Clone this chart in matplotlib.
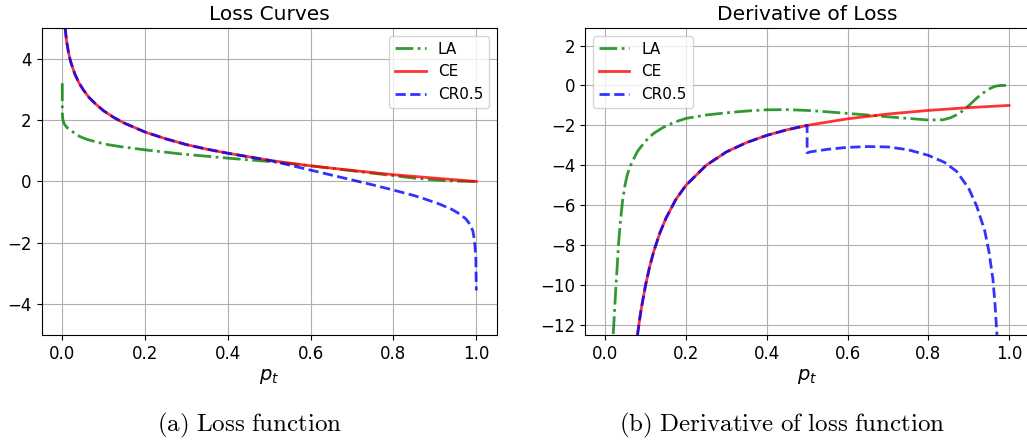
import numpy as np
import matplotlib
matplotlib.use('Agg')
import matplotlib.pyplot as plt

# ---- loss curves ----
ce_p = [0.0068, 0.01, 0.015, 0.02, 0.03, 0.04, 0.05, 0.065, 0.08, 0.1, 0.125, 0.15,
        0.2, 0.25, 0.3, 0.35, 0.4, 0.5, 0.6, 0.7, 0.8, 0.9, 1.0]
ce_loss = [5.0, 4.61, 4.20, 3.91, 3.51, 3.22, 3.0, 2.73, 2.53, 2.30, 2.08, 1.90,
           1.61, 1.39, 1.20, 1.05, 0.92, 0.69, 0.51, 0.36, 0.22, 0.11, 0.0]

cr_p = [0.0068, 0.01, 0.015, 0.02, 0.03, 0.04, 0.05, 0.065, 0.08, 0.1, 0.125, 0.15,
        0.2, 0.25, 0.3, 0.35, 0.4, 0.5, 0.55, 0.6, 0.65, 0.7, 0.75, 0.8, 0.85,
        0.88, 0.91, 0.94, 0.96, 0.975, 0.985, 0.992, 0.996, 0.999, 1.0]
cr_loss = [5.0, 4.61, 4.20, 3.91, 3.51, 3.22, 3.0, 2.73, 2.53, 2.30, 2.08, 1.90,
           1.61, 1.39, 1.20, 1.05, 0.92, 0.69, 0.53, 0.37, 0.21, 0.05, -0.11, -0.28, -0.46,
           -0.59, -0.73, -0.90, -1.06, -1.22, -1.40, -1.62, -1.95, -2.5, -3.55]

la_p = [0.0, 0.0, 0.001, 0.003, 0.007, 0.012, 0.019, 0.03, 0.043, 0.06, 0.084, 0.11,
        0.148, 0.2, 0.285, 0.4, 0.5, 0.6, 0.7, 0.8, 0.85, 0.9, 0.95, 1.0]
la_loss = [3.2, 2.25, 2.05, 1.93, 1.83, 1.75, 1.68, 1.57, 1.46, 1.37, 1.28, 1.20,
           1.12, 1.03, 0.90, 0.76, 0.65, 0.51, 0.35, 0.19, 0.11, 0.05, 0.01, 0.0]

# ---- derivatives ----
dce_p = [0.08, 0.085, 0.09, 0.1, 0.11, 0.12, 0.135, 0.15, 0.175, 0.2, 0.25, 0.3,
         0.35, 0.4, 0.45, 0.5, 0.6, 0.7, 0.8, 0.9, 1.0]
dce = [-12.5, -11.76, -11.11, -10.0, -9.09, -8.33, -7.41, -6.67, -5.71, -5.0, -4.0, -3.33,
       -2.86, -2.5, -2.22, -2.0, -1.67, -1.43, -1.25, -1.11, -1.0]

dcr_p = [0.08, 0.085, 0.09, 0.1, 0.11, 0.12, 0.135, 0.15, 0.175, 0.2, 0.25, 0.3,
         0.35, 0.4, 0.45, 0.5, 0.5, 0.51, 0.55, 0.6, 0.65, 0.7, 0.75, 0.8, 0.84, 0.87,
         0.9, 0.92, 0.94, 0.95, 0.96, 0.965, 0.97]
dcr = [-12.5, -11.76, -11.11, -10.0, -9.09, -8.33, -7.41, -6.67, -5.71, -5.0, -4.0, -3.33,
       -2.86, -2.5, -2.22, -2.0, -3.37, -3.32, -3.2, -3.1, -3.06, -3.08, -3.22, -3.5, -3.85, -4.3,
       -5.15, -6.05, -7.3, -8.3, -9.7, -10.9, -12.5]

dla_p = [0.02, 0.0235, 0.0265, 0.03, 0.033, 0.038, 0.043, 0.049, 0.055, 0.062, 0.068, 0.08,
         0.1, 0.12, 0.142, 0.17, 0.2, 0.25, 0.3, 0.35, 0.4, 0.45, 0.5, 0.55, 0.6, 0.65,
         0.7, 0.75, 0.8, 0.836, 0.855, 0.869, 0.882, 0.894, 0.906, 0.919, 0.932, 0.944,
         0.956, 0.968, 0.98, 1.0]
dla = [-12.45, -11.2, -10.1, -9.0, -7.95, -6.75, -5.78, -5.0, -4.45, -4.05, -3.78, -3.3,
       -2.78, -2.4, -2.12, -1.85, -1.65, -1.48, -1.37, -1.28, -1.22, -1.21, -1.25, -1.32, -1.4, -1.48,
       -1.57, -1.65, -1.73, -1.72, -1.62, -1.48, -1.32, -1.12, -0.9, -0.65, -0.44, -0.25,
       -0.12, -0.03, 0.0, 0.0]

labels = ['LA', 'CE', 'CR0.5']
colors = ['g', 'r', 'b']
styles = ['-.', '-', '--']

fig = plt.figure(figsize=(10.27, 4.42), dpi=100)
ax1 = fig.add_axes([0.0405, 0.2421, 0.4434, 0.6946])
ax2 = fig.add_axes([0.5696, 0.2421, 0.4326, 0.6946])

curves1 = [(la_p, la_loss), (ce_p, ce_loss), (cr_p, cr_loss)]
curves2 = [(dla_p, dla), (dce_p, dce), (dcr_p, dcr)]

for ax, curves in [(ax1, curves1), (ax2, curves2)]:
    for (x, y), lab, c, ls in zip(curves, labels, colors, styles):
        ax.plot(x, y, ls, color=c, alpha=0.8, lw=2, label=lab)
    ax.grid(True)
    ax.set_xlim(-0.05, 1.05)
    ax.set_xticks(np.arange(0, 1.01, 0.2))
    ax.tick_params(labelsize=12)
    ax.set_xlabel('$p_t$', fontsize=14, labelpad=3)

ax1.set_ylim(-5, 5)
ax1.set_yticks([-4, -2, 0, 2, 4])
ax1.set_title('Loss Curves', fontsize=14.5)
ax1.legend(loc='upper right', fontsize=11)

ax2.set_ylim(-12.5, 2.88)
ax2.set_yticks(np.arange(-12, 3, 2))
ax2.set_title('Derivative of Loss', fontsize=14.5)
ax2.legend(loc='upper left', fontsize=11)

# sub-figure captions in Computer Modern
fig.text(0.2434, 0.024, r'$\mathrm{(a)\ Loss\ function}$', ha='center', va='baseline',
         fontsize=18, math_fontfamily='cm')
fig.text(0.7615, 0.024, r'$\mathrm{(b)\ Derivative\ of\ loss\ function}$', ha='center',
         va='baseline', fontsize=18, math_fontfamily='cm')

fig.savefig('out.png', dpi=100)
